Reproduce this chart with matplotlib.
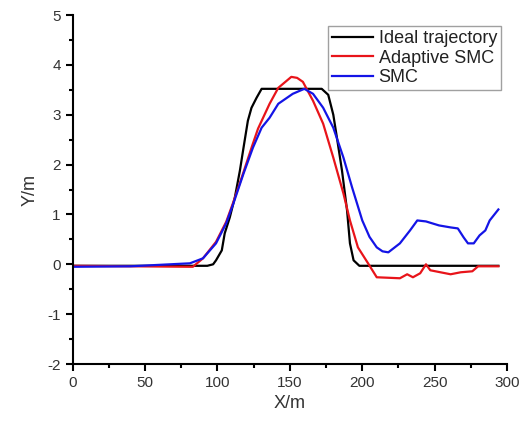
import matplotlib
matplotlib.use('Agg')
import matplotlib.pyplot as plt
from matplotlib.ticker import MultipleLocator

plt.rcParams['font.family'] = ['Liberation Sans', 'DejaVu Sans']
plt.rcParams['axes.unicode_minus'] = False

# ideal trajectory
x_ideal = [0, 93, 97, 99, 103, 105, 108.5, 112, 115.5, 118, 121, 123.5, 127, 130.5, 172,
           176.5, 180, 182.5, 186, 189.5, 191.5, 194, 198, 294]
y_ideal = [-0.03, -0.03, 0.0, 0.08, 0.28, 0.62, 0.94, 1.34, 1.88, 2.34, 2.88, 3.14, 3.34,
           3.52, 3.52, 3.4, 3.0, 2.54, 1.88, 1.08, 0.42, 0.08, -0.03, -0.03]

# adaptive SMC
x_asmc = [0, 40, 83, 90, 99, 106, 111, 118, 124, 128, 136, 142, 151, 155, 159, 166, 173,
          180, 187, 191.5, 197, 204, 210, 226, 231, 235, 240, 244, 247, 261, 268, 276,
          280, 294]
y_asmc = [-0.03, -0.04, -0.05, 0.12, 0.45, 0.85, 1.25, 1.85, 2.38, 2.72, 3.22, 3.54,
          3.76, 3.74, 3.66, 3.28, 2.82, 2.14, 1.42, 0.88, 0.34, 0.02, -0.26, -0.28,
          -0.2, -0.26, -0.18, 0.0, -0.12, -0.2, -0.16, -0.14, -0.04, -0.04]

# SMC
x_smc = [0, 40, 81, 90, 99, 106, 111, 118, 124.5, 130.5, 136, 142, 152, 160, 166, 173,
         180, 187, 193, 200, 205, 210, 214, 218, 226, 233, 238, 244, 253, 261, 266, 270,
         273, 277, 281, 285, 288, 294]
y_smc = [-0.05, -0.04, 0.02, 0.12, 0.42, 0.82, 1.22, 1.82, 2.34, 2.74, 2.94, 3.22, 3.42,
         3.52, 3.42, 3.14, 2.74, 2.14, 1.54, 0.88, 0.55, 0.34, 0.26, 0.24, 0.42, 0.68,
         0.88, 0.86, 0.78, 0.74, 0.72, 0.54, 0.42, 0.42, 0.58, 0.68, 0.88, 1.1]

fig = plt.figure(figsize=(5.19, 4.24), dpi=100)
ax = fig.add_axes([0.140, 0.1415, 0.837, 0.823])

ax.plot(x_ideal, y_ideal, color='black', linewidth=1.6, label='Ideal trajectory')
ax.plot(x_asmc, y_asmc, color='#e8141a', linewidth=1.6, label='Adaptive SMC')
ax.plot(x_smc, y_smc, color='#1414e6', linewidth=1.6, label='SMC')

ax.set_xlim(0, 300)
ax.set_ylim(-2, 5)
ax.xaxis.set_major_locator(MultipleLocator(50))
ax.xaxis.set_minor_locator(MultipleLocator(25))
ax.yaxis.set_major_locator(MultipleLocator(1))
ax.yaxis.set_minor_locator(MultipleLocator(0.5))

ax.spines['top'].set_visible(False)
ax.spines['right'].set_visible(False)
ax.spines['left'].set_linewidth(1.5)
ax.spines['bottom'].set_linewidth(1.5)
ax.tick_params(which='major', direction='out', length=5, width=1.5, labelsize=11,
               colors='black', labelcolor='#333333')
ax.tick_params(which='minor', direction='out', length=3, width=1.5)

ax.set_xlabel('X/m', fontsize=13, color='#333333', labelpad=4)
ax.set_ylabel('Y/m', fontsize=13, color='#333333', labelpad=6)

leg = ax.legend(loc='upper right', bbox_to_anchor=(0.985, 0.968), fontsize=13,
                frameon=True, fancybox=False, handlelength=2.3, handletextpad=0.3,
                labelspacing=0.15, borderpad=0.2, borderaxespad=0.0)
leg.get_frame().set_edgecolor('#888888')
leg.get_frame().set_linewidth(1.0)
for t in leg.get_texts():
    t.set_color('#222222')

fig.savefig('out.png', dpi=100)
